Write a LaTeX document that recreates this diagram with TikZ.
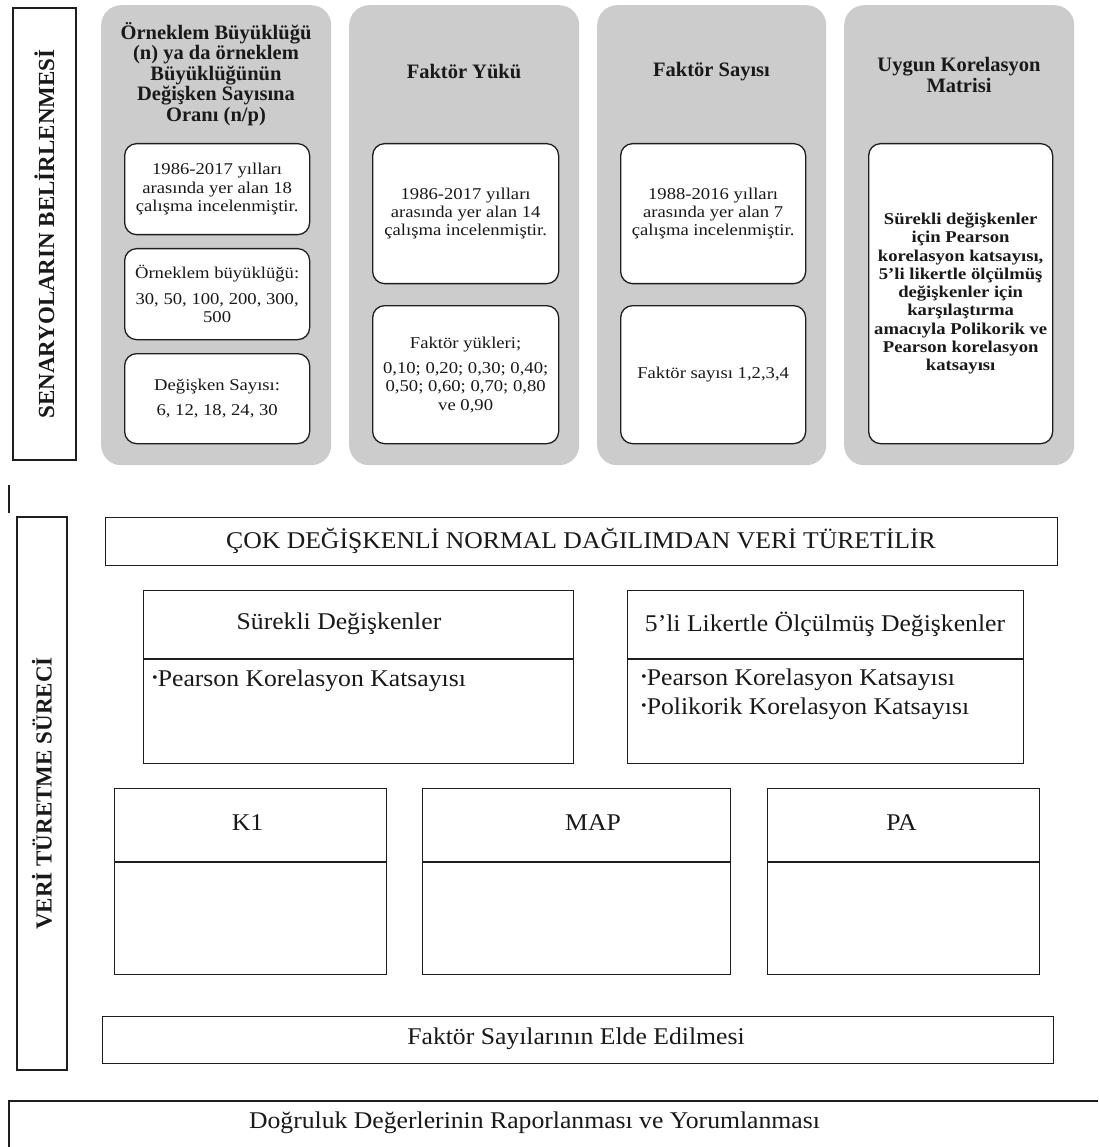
\documentclass[tikz,border=0pt]{standalone}
\usepackage{fontspec}
\setmainfont{Liberation Serif}
\newfontfamily\smallf{Liberation Serif}[FakeStretch=1.13]
\newfontfamily\bigf{Liberation Serif}[FakeStretch=1.07]
\definecolor{panelgray}{RGB}{204,204,204}
\definecolor{lineclr}{RGB}{30,30,30}
\definecolor{txtclr}{RGB}{25,25,25}
\newcommand{\smbul}{\raisebox{4.5pt}{\fontsize{15}{15}\selectfont •}}
\begin{document}
\begin{tikzpicture}[x=1pt,y=-1pt,
  every node/.style={text=txtclr},
  panel/.style={fill=panelgray, draw=none, rounded corners=20pt, anchor=north west, inner sep=0pt},
  ibox/.style={draw=lineclr, line width=1.3pt, fill=white, rounded corners=12pt, anchor=north west, inner sep=0pt, align=center, font=\smallf\fontsize{16.5}{18.3}\selectfont},
  sbox/.style={draw=lineclr, line width=1.2pt, anchor=north west, inner sep=0pt},
  ptitle/.style={align=center, inner sep=0pt, font=\bfseries\fontsize{20.5}{20.5}\selectfont},
  bigtxt/.style={inner sep=0pt, font=\bigf\fontsize{24}{29}\selectfont},
  sidebox/.style={draw=lineclr, line width=1.2pt, rotate=90, anchor=center, inner sep=0pt, font=\bfseries\fontsize{23}{23}\selectfont},
  bul/.style={bigtxt, anchor=west}
]
\useasboundingbox (0,0) rectangle (1098,1147);
\fill[white] (0,0) rectangle (1098,1147);

% ---------- top section ----------
\node[sidebox, minimum width=452, minimum height=63] (sen) at (44.5,234) {SENARYOLARIN BELİRLENMESİ};

\node[panel, minimum width=230, minimum height=460] (p1) at (101,5) {};
\node[panel, minimum width=230, minimum height=460] (p2) at (349,5) {};
\node[panel, minimum width=229, minimum height=460] (p3) at (597,5) {};
\node[panel, minimum width=230, minimum height=460] (p4) at (844,5) {};

\node[ptitle] (t1) at (216,74) {Örneklem Büyüklüğü\\(n) ya da örneklem\\Büyüklüğünün\\Değişken Sayısına\\Oranı (n/p)};
\node[ptitle] (t2) at (464,72) {Faktör Yükü};
\node[ptitle] (t3) at (711.5,72) {Faktör Sayısı};
\node[ptitle] (t4) at (959,75) {Uygun Korelasyon\\Matrisi};

\node[ibox, minimum width=185, minimum height=91] (b11) at (124,143) {1986-2017 yılları\\arasında yer alan 18\\çalışma incelenmiştir.};
\node[ibox, minimum width=185, minimum height=91] (b12) at (124,248) {Örneklem büyüklüğü:\\[7pt]30, 50, 100, 200, 300,\\500};
\node[ibox, minimum width=185, minimum height=90] (b13) at (124,353) {Değişken Sayısı:\\[7pt]6, 12, 18, 24, 30};

\node[ibox, minimum width=186, minimum height=140] (b21) at (372,143) {1986-2017 yılları\\arasında yer alan 14\\çalışma incelenmiştir.};
\node[ibox, minimum width=186, minimum height=138] (b22) at (372,305) {Faktör yükleri;\\[7pt]0,10; 0,20; 0,30; 0,40;\\0,50; 0,60; 0,70; 0,80\\ve 0,90};

\node[ibox, minimum width=185, minimum height=140] (b31) at (620,143) {1988-2016 yılları\\arasında yer alan 7\\çalışma incelenmiştir.};
\node[ibox, minimum width=185, minimum height=138] (b32) at (620,305) {Faktör sayısı 1,2,3,4};

\node[ibox, minimum width=184, minimum height=300, font=\smallf\bfseries\fontsize{16.5}{18.3}\selectfont] (b41) at (868,143) {Sürekli değişkenler\\için Pearson\\korelasyon katsayısı,\\5’li likertle ölçülmüş\\değişkenler için\\karşılaştırma\\amacıyla Polikorik ve\\Pearson korelasyon\\katsayısı};

% ---------- bottom section ----------
\coordinate (tickA) at (9,485);
\coordinate (tickB) at (9,513);
\draw[lineclr, line width=1.2pt] (tickA) -- (tickB);

\node[sidebox, minimum width=553, minimum height=50] (ver) at (42,793.5) {VERİ TÜRETME SÜRECİ};

\node[sbox, minimum width=952, minimum height=48] (cok) at (105,517) {};
\node[bigtxt] (cokt) at (581,541) {ÇOK DEĞİŞKENLİ NORMAL DAĞILIMDAN VERİ TÜRETİLİR};

\node[sbox, minimum width=430, minimum height=173] (sur) at (143,590) {};
\draw[lineclr, line width=1.2pt] (sur.west |- 0,659) -- (sur.east |- 0,659);
\node[bigtxt] (surt) at (339,624) {Sürekli Değişkenler};
\node[bul] (surb) at (152,681) {\smbul Pearson Korelasyon Katsayısı};

\node[sbox, minimum width=396, minimum height=173] (lik) at (627,590) {};
\draw[lineclr, line width=1.2pt] (lik.west |- 0,659) -- (lik.east |- 0,659);
\node[bigtxt] (likt) at (825,624) {5’li Likertle Ölçülmüş Değişkenler};
\node[bul] (likb1) at (641,680) {\smbul Pearson Korelasyon Katsayısı};
\node[bul] (likb2) at (641,709) {\smbul Polikorik Korelasyon Katsayısı};

\node[sbox, minimum width=272, minimum height=186] (k1) at (114,788) {};
\draw[lineclr, line width=1.2pt] (k1.west |- 0,862) -- (k1.east |- 0,862);
\node[bigtxt] (k1t) at (247.5,823) {K1};

\node[sbox, minimum width=308, minimum height=186] (map) at (422,788) {};
\draw[lineclr, line width=1.2pt] (map.west |- 0,862) -- (map.east |- 0,862);
\node[bigtxt] (mapt) at (593,823) {MAP};

\node[sbox, minimum width=272, minimum height=186] (pa) at (767,788) {};
\draw[lineclr, line width=1.2pt] (pa.west |- 0,862) -- (pa.east |- 0,862);
\node[bigtxt] (pat) at (901.5,823) {PA};

\node[sbox, minimum width=951, minimum height=47] (fsay) at (102,1016) {};
\node[bigtxt] (fsayt) at (576,1039) {Faktör Sayılarının Elde Edilmesi};

\coordinate (dogA) at (9,1147);
\coordinate (dogB) at (9,1101);
\coordinate (dogC) at (1098,1101);
\draw[lineclr, line width=1.2pt] (dogA) -- (dogB) -- (dogC);
\node[bigtxt] (dogt) at (534.5,1123) {Doğruluk Değerlerinin Raporlanması ve Yorumlanması};
\end{tikzpicture}
\end{document}
